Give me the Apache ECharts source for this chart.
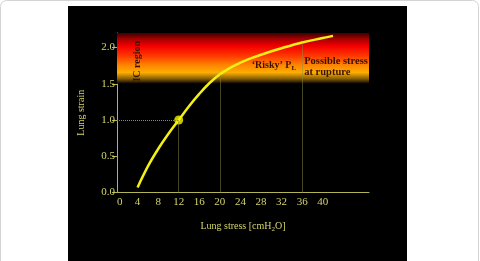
<!DOCTYPE html>
<html lang="en">
<head>
    <meta charset="UTF-8">
    <title>Lung stress vs strain</title>
    <script src="https://cdn.jsdelivr.net/npm/echarts@6/dist/echarts.min.js"></script>
    <style>
        html, body { margin: 0; padding: 0; background: #fff; }
        #chart { width: 480px; height: 261px; }
    </style>
</head>
<body>
    <div id="chart"></div>
    <script>
        // 曲线数据
        let stressX = [4, 6, 8, 10, 12, 14, 16, 18, 20, 22, 24, 26, 28, 32, 36, 40, 42];
        let strainY = [0.07, 0.36, 0.6, 0.81, 1.0, 1.19, 1.36, 1.51, 1.63, 1.72, 1.79, 1.85, 1.9, 1.99, 2.07, 2.13, 2.16];
        // 标记点
        let pointX = 12;
        let pointY = 1.0;
        // 竖直虚线
        let guideX = [12, 20, 36];
        let guideY = [1.0, 1.63, 2.07];
        // 危险区
        let bandFrom = 1.5;
        let bandTo = 2.2;
        // 刻度
        let xTicks = [0, 4, 8, 12, 16, 20, 24, 28, 32, 36, 40];
        let yTicks = [0, 0.5, 1.0, 1.5, 2.0];

        let axisColor = '#b4b456';
        let labelColor = '#d4d46c';
        let noteColor = '#3a1200';
        let serif = 'Liberation Serif';

        let chart = echarts.init(document.getElementById('chart'));

        let curveData = stressX.map((x, i) => [x, strainY[i]]);
        let guideLines = [[{ coord: [0, pointY] }, { coord: [pointX, pointY] }]];
        guideX.forEach((x, i) => {
            guideLines.push([{ coord: [x, 0] }, { coord: [x, guideY[i]] }]);
        });

        chart.setOption({
            backgroundColor: '#fff',
            animation: false,
            graphic: [
                {
                    type: 'rect', z: -10, silent: true,
                    shape: { x: 0.5, y: 0.5, width: 478, height: 275, r: 6 },
                    style: { fill: 'none', stroke: '#d4d4d4', lineWidth: 1 }
                },
                {
                    type: 'rect', z: -9, silent: true,
                    shape: { x: 68, y: 6, width: 339, height: 260 },
                    style: { fill: '#000' }
                }
            ],
            grid: { left: 117, right: 111, top: 33, bottom: 68.5 },
            xAxis: {
                type: 'value',
                min: 0,
                max: 49,
                interval: 4,
                name: '{t|Lung stress [cmH}{s|2}{t|O]}',
                nameLocation: 'middle',
                nameGap: 27,
                nameTextStyle: {
                    rich: {
                        t: { fontFamily: serif, fontSize: 10, color: labelColor },
                        s: { fontFamily: serif, fontSize: 7, color: labelColor, padding: [6, 0, 0, 0] }
                    }
                },
                axisLine: { lineStyle: { color: axisColor, width: 1 } },
                axisTick: { show: false },
                splitLine: { show: false },
                axisLabel: {
                    customValues: xTicks,
                    margin: 4,
                    alignMinLabel: 'left',
                    color: labelColor,
                    fontFamily: serif,
                    fontSize: 11
                }
            },
            yAxis: {
                type: 'value',
                min: 0,
                max: bandTo,
                interval: 0.5,
                name: 'Lung strain',
                nameLocation: 'middle',
                nameGap: 31,
                nameTextStyle: { fontFamily: serif, fontSize: 10, color: labelColor },
                axisLine: { show: true, lineStyle: { color: axisColor, width: 1 } },
                axisTick: { show: true, customValues: yTicks, length: 5, lineStyle: { color: axisColor } },
                splitLine: { show: false },
                axisLabel: {
                    customValues: yTicks,
                    margin: 2,
                    color: labelColor,
                    fontFamily: serif,
                    fontSize: 11,
                    formatter: v => v.toFixed(1)
                }
            },
            series: [
                {
                    type: 'line',
                    data: curveData,
                    smooth: 0.4,
                    symbol: 'none',
                    lineStyle: { color: '#f4f014', width: 2.5 },
                    z: 3,
                    markArea: {
                        silent: true,
                        itemStyle: {
                            color: new echarts.graphic.LinearGradient(0, 0, 0, 1, [
                                { offset: 0, color: '#3c0000' },
                                { offset: 0.12, color: '#a80000' },
                                { offset: 0.26, color: '#f40000' },
                                { offset: 0.45, color: '#ff3800' },
                                { offset: 0.62, color: '#ff8000' },
                                { offset: 0.78, color: '#fcae00' },
                                { offset: 0.9, color: '#8a6000' },
                                { offset: 1, color: '#000000' }
                            ])
                        },
                        data: [[{ yAxis: bandFrom }, { yAxis: bandTo }]]
                    },
                    markLine: {
                        silent: true,
                        symbol: 'none',
                        label: { show: false },
                        lineStyle: { color: '#8c8c44', type: 'dotted', width: 1 },
                        data: guideLines
                    },
                    markPoint: {
                        silent: true,
                        symbolSize: 0,
                        label: {
                            show: true,
                            fontFamily: serif,
                            fontWeight: 'bold',
                            color: noteColor
                        },
                        data: [
                            {
                                coord: [4, 1.81],
                                label: { formatter: 'IC region', rotate: 90, fontSize: 10, position: 'inside' }
                            },
                            {
                                coord: [30.5, 1.75],
                                label: {
                                    formatter: '{a|\u2018Risky\u2019 P}{s|L}',
                                    position: 'inside',
                                    rich: {
                                        a: { fontFamily: serif, fontWeight: 'bold', fontSize: 10, color: noteColor },
                                        s: { fontFamily: serif, fontWeight: 'bold', fontSize: 7, color: noteColor, padding: [5, 0, 0, 0] }
                                    }
                                }
                            },
                            {
                                coord: [36.4, 1.735],
                                label: {
                                    formatter: 'Possible stress\nat rupture',
                                    position: 'right',
                                    distance: 0,
                                    fontSize: 10.5,
                                    lineHeight: 11,
                                    align: 'left'
                                }
                            }
                        ]
                    }
                },
                {
                    type: 'scatter',
                    data: [[pointX, pointY]],
                    symbolSize: 9,
                    itemStyle: { color: '#f8f400' },
                    z: 4
                }
            ]
        });
    </script>
</body>
</html>
